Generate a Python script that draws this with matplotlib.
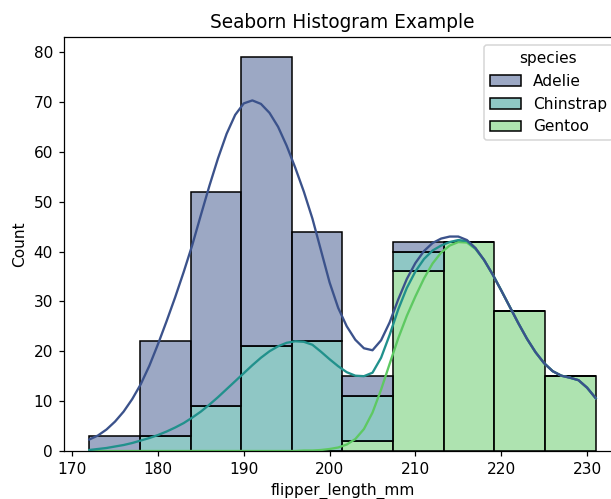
import numpy as np
import matplotlib
matplotlib.use("Agg")
import matplotlib.pyplot as plt
from matplotlib.colors import to_rgba

species = ["Adelie", "Chinstrap", "Gentoo"]
colors = ["#3b528b", "#21918c", "#5ec962"]  # viridis, 3 levels

bin_edges = [172.0, 177.9, 183.8, 189.7, 195.6, 201.5, 207.4, 213.3, 219.2, 225.1, 231.0]
adelie = [3, 19, 43, 58, 22, 4, 2, 0, 0, 0]
chinstrap = [0, 3, 9, 21, 22, 9, 4, 0, 0, 0]
gentoo = [0, 0, 0, 0, 0, 2, 36, 42, 28, 15]

# kde curves (count scale, per species) at each whole mm, 172..231
kde_x = np.arange(172, 232)
kde_adelie = [2.1, 2.7, 3.7, 5.0, 6.7, 8.8, 11.3, 14.5, 18.2, 22.1,
              26.1, 30.3, 34.6, 39.4, 43.9, 47.9, 51.2, 53.4, 54.1, 53.1,
              50.9, 47.8, 44.0, 39.5, 34.8, 30.1, 25.3, 20.3, 15.4, 11.7,
              9.2, 7.2, 5.6, 4.5, 3.5, 2.5, 2.0, 1.8, 1.7, 1.6,
              1.5, 1.4, 1.1, 0.7, 0.2, 0.1, 0, 0, 0, 0,
              0, 0, 0, 0, 0, 0, 0, 0, 0, 0]
kde_chinstrap = [0.2, 0.4, 0.6, 0.9, 1.2, 1.6, 2.1, 2.6, 3.2, 3.9,
                 4.7, 5.6, 6.7, 7.9, 9.3, 10.8, 12.4, 14.0, 15.6, 17.2,
                 18.7, 20.0, 21.0, 21.7, 22.0, 21.8, 21.2, 19.7, 18.0, 16.3,
                 14.5, 12.7, 10.6, 8.0, 6.4, 5.8, 5.8, 5.6, 5.0, 3.9,
                 2.6, 1.4, 0.7, 0.4, 0.3, 0.1, 0, 0, 0, 0,
                 0, 0, 0, 0, 0, 0, 0, 0, 0, 0]
kde_gentoo = [0, 0, 0, 0, 0, 0, 0, 0, 0, 0,
              0, 0, 0, 0, 0, 0, 0, 0, 0, 0,
              0, 0, 0, 0, 0, 0.1, 0.1, 0.2, 0.4, 0.7,
              1.3, 2.4, 4.4, 7.7, 12.3, 17.5, 22.6, 27.1, 31.0, 34.6,
              37.6, 39.8, 41.2, 41.9, 41.8, 40.5, 38.3, 35.4, 32.2, 28.9,
              25.6, 22.5, 19.8, 17.6, 16.0, 15.1, 14.7, 14.2, 12.7, 10.6]

fig = plt.figure(figsize=(611 / 111, 499 / 111), dpi=111)
ax = fig.add_axes([0.1047, 0.0962, 0.9116, 0.829])

left = np.array(bin_edges[:-1])
widths = np.diff(bin_edges)
counts = {"Adelie": adelie, "Chinstrap": chinstrap, "Gentoo": gentoo}

# stacked: Gentoo at the bottom, Adelie on top
bottom = np.zeros(len(left))
for name, col in zip(species[::-1], colors[::-1]):
    h = np.array(counts[name])
    ax.bar(left, h, width=widths, bottom=bottom, align="edge",
           facecolor=to_rgba(col, 0.5), edgecolor="black", linewidth=1,
           label=name)
    bottom = bottom + h

kdes = {"Adelie": kde_adelie, "Chinstrap": kde_chinstrap, "Gentoo": kde_gentoo}
stack = np.zeros(len(kde_x))
for name, col in zip(species[::-1], colors[::-1]):
    stack = stack + np.array(kdes[name])
    ax.plot(kde_x, stack, color=col, linewidth=1.5, solid_joinstyle="round")

handles, labels = ax.get_legend_handles_labels()
order = [labels.index(s) for s in species]
ax.legend([handles[i] for i in order], species, title="species", loc="upper right")

ax.set_title("Seaborn Histogram Example")
ax.set_xlabel("flipper_length_mm")
ax.set_ylabel("Count")

fig.savefig("out.png", dpi=111)
